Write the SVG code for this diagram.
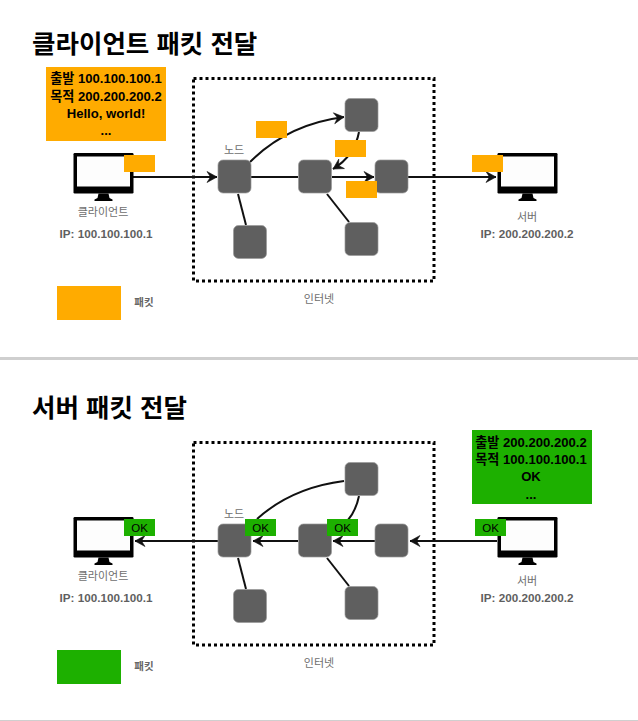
<svg xmlns="http://www.w3.org/2000/svg" xmlns:xlink="http://www.w3.org/1999/xlink" width="638" height="721" viewBox="0 0 638 721">
<style>
text{font-family:"Liberation Sans","Noto Sans CJK KR",sans-serif;text-anchor:middle}
.title{font-size:25.500px;font-weight:700;fill:#000;text-anchor:start}
.info{font-size:13.100px;font-weight:700;fill:#000}
.cap{font-size:11px;fill:#6e6e6e}
.ip{font-size:11.700px;font-weight:700;fill:#5f5f5f}
.leg{font-size:10.500px;font-weight:700;fill:#666}
.ok{font-size:11.500px;fill:#000}
.node{fill:#5f5f5f;stroke:#9a9a9a;stroke-width:.7}
.org{fill:#ffab00}
.grn{fill:#1db000}
.box{fill:none;stroke:#000;stroke-width:3;stroke-dasharray:3 3}
.c{fill:none;stroke:#111;stroke-width:2}
.a{marker-end:url(#arr)}
.sep{fill:#cfcfcf}
</style>
<defs>
<marker id="arr" markerUnits="userSpaceOnUse" markerWidth="14" markerHeight="14" refX="11" refY="6" orient="auto" overflow="visible">
<path d="M1 .5L11 6L1 11.5L4.500 6Z" fill="#111" stroke="#111" stroke-width=".6" stroke-linejoin="round"/>
</marker>
<g id="mon">
<rect x="0" y="0" width="60" height="40.500" rx="1.200" fill="#000"/>
<rect x="3.500" y="3.500" width="53" height="30" fill="#fdfdfd"/>
<path d="M25 40.500H35L36 45L39 46.500V48H21V46.500L24 45Z" fill="#000"/>
</g>
</defs>
<rect class="sep" x="0" y="357" width="638" height="3"/>
<rect class="sep" x="0" y="720" width="638" height="1"/>

<g id="top-section">
<text class="title" x="32" y="52.500">클라이언트 패킷 전달</text>
<rect class="box" x="193.500" y="78.500" width="240.500" height="202.500"/>
<text class="cap" x="319" y="303">인터넷</text>
</g>
<g id="top-connectors">
<path class="c a" d="M133 177H217"/>
<path class="c" d="M251 177H298"/>
<path class="c a" d="M332 177H374"/>
<path class="c a" d="M408 177H496"/>
<path class="c a" d="M250 162C275 137 305 122 344 117"/>
<path class="c a" d="M359 132C356 148 348 160 333 169"/>
<path class="c" d="M238 194L246 225"/>
<path class="c" d="M327 194L349 222"/>
</g>
<g id="top-client"><use xlink:href="#mon" href="#mon" x="73.500" y="153"/><text class="cap" x="103" y="216">클라이언트</text><text class="ip" x="106" y="238">IP: 100.100.100.1</text></g>
<g id="top-server"><use xlink:href="#mon" href="#mon" x="497.500" y="153"/><text class="cap" x="527" y="221">서버</text><text class="ip" x="527" y="238">IP: 200.200.200.2</text></g>
<g id="top-n1"><rect class="node" x="218" y="160" width="33" height="33" rx="5"/><text class="cap" x="234" y="154">노드</text></g>
<g id="top-n2"><rect class="node" x="298.500" y="160" width="33" height="33" rx="5"/></g>
<g id="top-n3"><rect class="node" x="375" y="160" width="33" height="33" rx="5"/></g>
<g id="top-n4"><rect class="node" x="345" y="98.500" width="33" height="33" rx="5"/></g>
<g id="top-n5"><rect class="node" x="233.500" y="225.500" width="33" height="33" rx="5"/></g>
<g id="top-n6"><rect class="node" x="345" y="222.500" width="33" height="33" rx="5"/></g>
<g id="top-packets">
<rect class="org" x="124" y="155" width="31" height="17"/>
<rect class="org" x="256" y="121" width="31" height="17"/>
<rect class="org" x="335" y="140" width="31" height="17"/>
<rect class="org" x="346" y="181" width="31" height="17"/>
<rect class="org" x="472" y="155" width="31" height="17"/>
</g>
<g id="top-info">
<rect class="org" x="46" y="67" width="120" height="74"/>
<text class="info" x="106" y="83">출발 100.100.100.1</text>
<text class="info" x="106" y="101">목적 200.200.200.2</text>
<text class="info" x="106" y="118">Hello, world!</text>
<text class="info" x="106" y="135">...</text>
</g>
<g id="top-legend"><rect class="org" x="57" y="286" width="64" height="34"/><text class="leg" x="144" y="306">패킷</text></g>

<g id="bottom-section">
<text class="title" x="32" y="416.500">서버 패킷 전달</text>
<rect class="box" x="193.500" y="442.500" width="240.500" height="202.500"/>
<text class="cap" x="319" y="667">인터넷</text>
</g>
<g id="bottom-connectors">
<path class="c a" d="M218 541H135"/>
<path class="c a" d="M298 541H253"/>
<path class="c a" d="M375 541H333"/>
<path class="c a" d="M497 541H410"/>
<path class="c" d="M344 481C305 486 278 500 257 519"/>
<path class="c" d="M359 496C357 506 353 514 348 520"/>
<path class="c" d="M238 558L246 589"/>
<path class="c" d="M327 558L349 586"/>
</g>
<g id="bottom-client"><use xlink:href="#mon" href="#mon" x="73.500" y="517"/><text class="cap" x="103" y="580">클라이언트</text><text class="ip" x="106" y="602">IP: 100.100.100.1</text></g>
<g id="bottom-server"><use xlink:href="#mon" href="#mon" x="497.500" y="517"/><text class="cap" x="527" y="585">서버</text><text class="ip" x="527" y="602">IP: 200.200.200.2</text></g>
<g id="bottom-n1"><rect class="node" x="218" y="524" width="33" height="33" rx="5"/><text class="cap" x="234" y="518">노드</text></g>
<g id="bottom-n2"><rect class="node" x="298.500" y="524" width="33" height="33" rx="5"/></g>
<g id="bottom-n3"><rect class="node" x="375" y="524" width="33" height="33" rx="5"/></g>
<g id="bottom-n4"><rect class="node" x="345" y="462.500" width="33" height="33" rx="5"/></g>
<g id="bottom-n5"><rect class="node" x="233.500" y="589.500" width="33" height="33" rx="5"/></g>
<g id="bottom-n6"><rect class="node" x="345" y="586.500" width="33" height="33" rx="5"/></g>
<g id="bottom-packets">
<rect class="grn" x="124" y="519" width="31" height="17"/><text class="ok" x="139.500" y="532">OK</text>
<rect class="grn" x="245" y="519" width="31" height="17"/><text class="ok" x="260.500" y="532">OK</text>
<rect class="grn" x="327" y="519" width="31" height="17"/><text class="ok" x="342.500" y="532">OK</text>
<rect class="grn" x="475" y="519" width="31" height="17"/><text class="ok" x="490.500" y="532">OK</text>
</g>
<g id="bottom-info">
<rect class="grn" x="472" y="430" width="120" height="74"/>
<text class="info" x="531" y="447">출발 200.200.200.2</text>
<text class="info" x="531" y="464">목적 100.100.100.1</text>
<text class="info" x="531" y="481">OK</text>
<text class="info" x="531" y="499">...</text>
</g>
<g id="bottom-legend"><rect class="grn" x="57" y="650" width="64" height="34"/><text class="leg" x="144" y="670">패킷</text></g>
</svg>
